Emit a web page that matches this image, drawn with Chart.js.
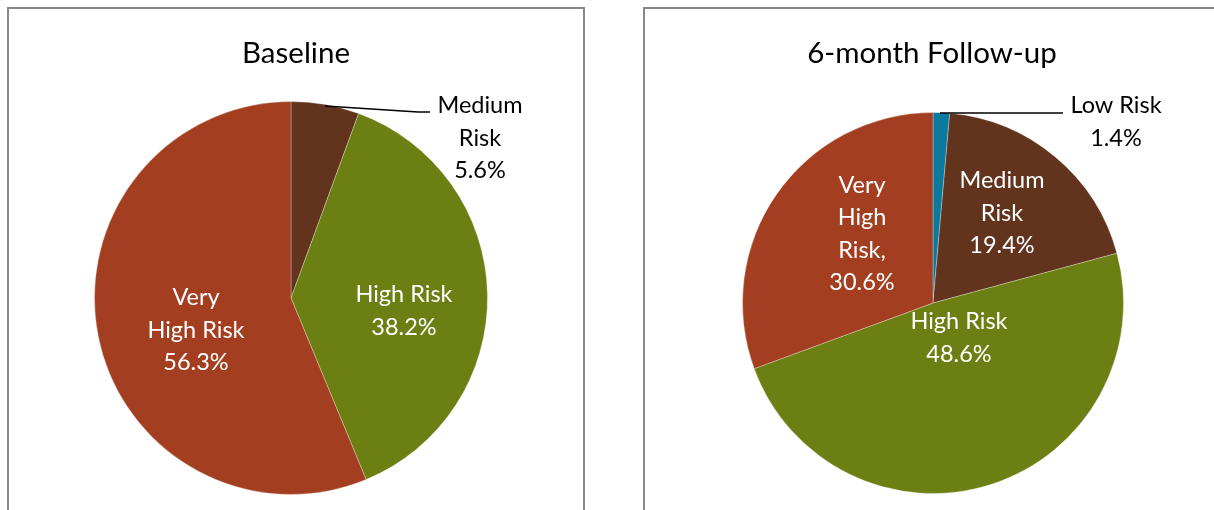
<!DOCTYPE html>
<html>
<head>
<meta charset="utf-8">
<script src="https://cdn.jsdelivr.net/npm/chart.js@4/dist/chart.umd.min.js"></script>
<style>
  body { margin: 0; background: #fff; }
  #wrap { position: relative; width: 1214px; height: 510px; overflow: hidden; }
  .panel { position: absolute; border: 2px solid #888; box-sizing: border-box; }
  canvas { position: absolute; left: 0; top: 0; }
</style>
</head>
<body>
<div id="wrap">
  <div class="panel" style="left:7px; top:7px; width:578px; height:540px;"></div>
  <div class="panel" style="left:643px; top:7px; width:620px; height:540px;"></div>
  <canvas id="baselineChart" width="1214" height="510"></canvas>
  <canvas id="followUpChart" width="1214" height="510"></canvas>
</div>
<script>
// Datos de las gráficas
const riskCategories = ['Low Risk', 'Medium Risk', 'High Risk', 'Very High Risk'];
const baselineValues = [0, 5.6, 38.2, 56.3];
const followUpValues = [1.4, 19.4, 48.6, 30.6];

const sliceColors = ['#0B7A9C', '#62341E', '#6B7F12', '#A33F20'];
const FONT = 'Lato, "Open Sans", sans-serif';

// Texto de las etiquetas y su posición relativa al centro del pastel
const baselineLabels = [
    null,
    { lines: ['Medium', 'Risk', '5.6%'], dx: 189, dy: -160, color: '#000', leader: [[34, -192], [127, -186], [139, -186]] },
    { lines: ['High Risk', '38.2%'], dx: 113, dy: 13, color: '#fff' },
    { lines: ['Very', 'High Risk', '56.3%'], dx: -95, dy: 32, color: '#fff' }
];
const followUpLabels = [
    { lines: ['Low Risk', '1.4%'], dx: 183, dy: -181, color: '#000', leader: [[7, -190], [130, -190]] },
    { lines: ['Medium', 'Risk', '19.4%'], dx: 69, dy: -90, color: '#fff' },
    { lines: ['High Risk', '48.6%'], dx: 26, dy: 35, color: '#fff' },
    { lines: ['Very', 'High', 'Risk,', '30.6%'], dx: -71, dy: -69, color: '#fff' }
];

// Plugin para dibujar título y etiquetas
const labelPlugin = {
    id: 'pieLabels',
    afterDatasetsDraw(chart, args, opts) {
        const ctx = chart.ctx;
        const arcs = chart.getDatasetMeta(0).data;
        const cx = arcs[0].x, cy = arcs[0].y;
        ctx.save();
        ctx.textAlign = 'center';
        ctx.textBaseline = 'middle';
        ctx.font = '29.5px ' + FONT;
        ctx.fillStyle = '#000';
        ctx.fillText(opts.title, opts.titleX, 53);

        ctx.font = '23.5px ' + FONT;
        const lh = 32.5;
        opts.labels.forEach((lab, i) => {
            if (!lab || chart.data.datasets[0].data[i] <= 0) return;
            if (lab.leader) {
                ctx.beginPath();
                ctx.strokeStyle = '#000';
                ctx.lineWidth = 1.5;
                lab.leader.forEach((p, k) => {
                    if (k === 0) ctx.moveTo(cx + p[0], cy + p[1]);
                    else ctx.lineTo(cx + p[0], cy + p[1]);
                });
                ctx.stroke();
            }
            ctx.fillStyle = lab.color;
            const n = lab.lines.length;
            lab.lines.forEach((t, k) => {
                ctx.fillText(t, cx + lab.dx, cy + lab.dy + (k - (n - 1) / 2) * lh);
            });
        });
        ctx.restore();
    }
};

function makePie(id, values, title, titleX, labels, padding) {
    const ctx = document.getElementById(id).getContext('2d');
    return new Chart(ctx, {
        type: 'pie',
        data: {
            labels: riskCategories,
            datasets: [{
                data: values,
                backgroundColor: sliceColors,
                borderColor: 'rgba(255, 255, 255, 0.3)',
                borderWidth: values.map(v => v > 0 ? 1 : 0)
            }]
        },
        options: {
            responsive: false,
            animation: false,
            events: [],
            layout: { padding: padding },
            plugins: {
                legend: { display: false },
                tooltip: { enabled: false },
                title: { display: false },
                pieLabels: { title: title, titleX: titleX, labels: labels }
            }
        },
        plugins: [labelPlugin]
    });
}

makePie('baselineChart', baselineValues, 'Baseline', 296, baselineLabels,
    { left: 94, right: 726, top: 101, bottom: 15 });
makePie('followUpChart', followUpValues, '6-month Follow-up', 932, followUpLabels,
    { left: 742, right: 90, top: 112, bottom: 16 });
</script>
</body>
</html>
